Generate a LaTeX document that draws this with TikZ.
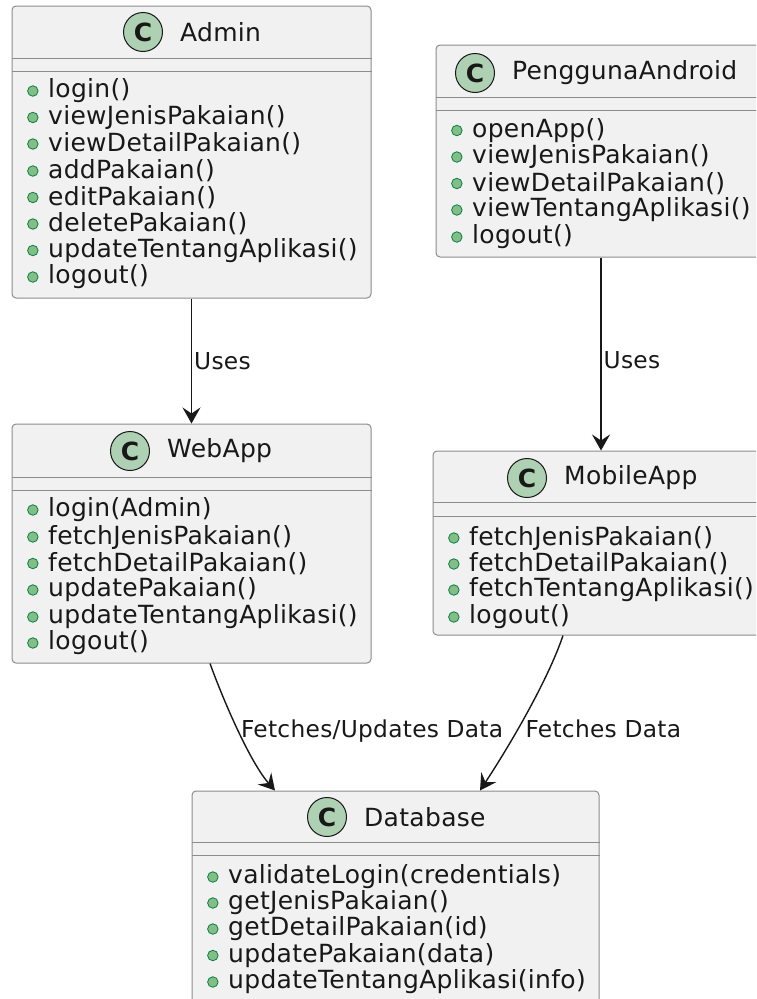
\documentclass[tikz,border=0pt]{standalone}
\usepackage{fontspec}
\setmainfont{DejaVu Sans}[LetterSpace=1.2]
\usetikzlibrary{arrows.meta}
\usetikzlibrary{positioning}
\definecolor{boxGray}{HTML}{F1F1F1}
\definecolor{iconGreen}{HTML}{ADD1B2}
\definecolor{dotGreen}{HTML}{84BE84}
\definecolor{dotLine}{HTML}{038048}
\definecolor{inkGray}{HTML}{181818}
\begin{document}
\begin{tikzpicture}[x = 1pt, y = -1pt, text = inkGray]
\tikzstyle{classStyle} = [shape = rectangle, rounded corners = 4pt, draw = black!45, line width = 1pt, fill = boxGray, inner sep = 0pt]
\tikzstyle{iconStyle} = [shape = circle, minimum size = 39pt, inner sep = 0pt, draw = inkGray, line width = 1pt, fill = iconGreen, font = \fontsize{25}{25}\selectfont\bfseries]
\tikzstyle{nameStyle} = [inner sep = 0pt, font = \fontsize{25}{30}\selectfont]
\tikzstyle{dotStyle} = [shape = circle, minimum size = 10.5pt, inner sep = 0pt, draw = dotLine, line width = 0.8pt, fill = dotGreen]
\tikzstyle{methodStyle} = [anchor = west, inner sep = 0pt, font = \fontsize{25}{30}\selectfont, label = {[dotStyle, label distance = 9.5pt]left:{}}]
\tikzstyle{sepStyle} = [draw = black!45, line width = 1pt]
\tikzstyle{EdgeStyle} = [draw = inkGray, line width = 1.4pt, -{Stealth[length = 16pt, width = 18pt, inset = 6pt]}]
\tikzstyle{edgeLabel} = [inner sep = 2pt, font = \fontsize{23.3}{28}\selectfont]
\useasboundingbox (0,0) rectangle (756,999);
\clip (0,0) rectangle (756,999);
% Admin
\node[classStyle, minimum width = 359pt, minimum height = 292pt] (admin) at (191.5,152) {};
\node[iconStyle] (adminIcon) at (143,32) {C};
\node[nameStyle, right = 17pt of adminIcon] (adminName) {Admin};
\draw[sepStyle] ([yshift = -52.5pt]admin.north west) -- ([yshift = -52.5pt]admin.north east);
\draw[sepStyle] ([yshift = -65.5pt]admin.north west) -- ([yshift = -65.5pt]admin.north east);
\node[methodStyle] (a0) at (48,91) {login()};
\node[methodStyle] (a1) at (48,117.5) {viewJenisPakaian()};
\node[methodStyle] (a2) at (48,144) {viewDetailPakaian()};
\node[methodStyle] (a3) at (48,171) {addPakaian()};
\node[methodStyle] (a4) at (48,197.5) {editPakaian()};
\node[methodStyle] (a5) at (48,224) {deletePakaian()};
\node[methodStyle] (a6) at (48,250.5) {updateTentangAplikasi()};
\node[methodStyle] (a7) at (48,277) {logout()};
% PenggunaAndroid
\node[classStyle, minimum width = 330pt, minimum height = 212pt] (user) at (601,151) {};
\node[iconStyle] (userIcon) at (475,73) {C};
\node[nameStyle, right = 17pt of userIcon] (userName) {PenggunaAndroid};
\draw[sepStyle] ([yshift = -53pt]user.north west) -- ([yshift = -53pt]user.north east);
\draw[sepStyle] ([yshift = -66pt]user.north west) -- ([yshift = -66pt]user.north east);
\node[methodStyle] (u0) at (472,130.5) {openApp()};
\node[methodStyle] (u1) at (472,157) {viewJenisPakaian()};
\node[methodStyle] (u2) at (472,183.5) {viewDetailPakaian()};
\node[methodStyle] (u3) at (472,210) {viewTentangAplikasi()};
\node[methodStyle] (u4) at (472,237) {logout()};
% WebApp
\node[classStyle, minimum width = 359pt, minimum height = 239pt] (web) at (191.5,543.5) {};
\node[iconStyle] (webIcon) at (130,451) {C};
\node[nameStyle, right = 17pt of webIcon] (webName) {WebApp};
\draw[sepStyle] ([yshift = -54pt]web.north west) -- ([yshift = -54pt]web.north east);
\draw[sepStyle] ([yshift = -66.5pt]web.north west) -- ([yshift = -66.5pt]web.north east);
\node[methodStyle] (w0) at (48,510) {login(Admin)};
\node[methodStyle] (w1) at (48,537) {fetchJenisPakaian()};
\node[methodStyle] (w2) at (48,563.5) {fetchDetailPakaian()};
\node[methodStyle] (w3) at (48,590) {updatePakaian()};
\node[methodStyle] (w4) at (48,617) {updateTentangAplikasi()};
\node[methodStyle] (w5) at (48,643) {logout()};
% MobileApp
\node[classStyle, minimum width = 336pt, minimum height = 184pt] (mobile) at (601,543) {};
\node[iconStyle] (mobileIcon) at (527,478) {C};
\node[nameStyle, right = 17pt of mobileIcon] (mobileName) {MobileApp};
\draw[sepStyle] ([yshift = -52pt]mobile.north west) -- ([yshift = -52pt]mobile.north east);
\draw[sepStyle] ([yshift = -66pt]mobile.north west) -- ([yshift = -66pt]mobile.north east);
\node[methodStyle] (m0) at (469,538) {fetchJenisPakaian()};
\node[methodStyle] (m1) at (469,564) {fetchDetailPakaian()};
\node[methodStyle] (m2) at (469,590) {fetchTentangAplikasi()};
\node[methodStyle] (m3) at (469,617) {logout()};
% Database
\node[classStyle, minimum width = 407pt, minimum height = 215pt] (db) at (395.5,898.5) {};
\node[iconStyle] (dbIcon) at (327,817) {C};
\node[nameStyle, right = 17pt of dbIcon] (dbName) {Database};
\draw[sepStyle] ([yshift = -52pt]db.north west) -- ([yshift = -52pt]db.north east);
\draw[sepStyle] ([yshift = -65pt]db.north west) -- ([yshift = -65pt]db.north east);
\node[methodStyle] (d0) at (228,877) {validateLogin(credentials)};
\node[methodStyle] (d1) at (228,903) {getJenisPakaian()};
\node[methodStyle] (d2) at (228,929) {getDetailPakaian(id)};
\node[methodStyle] (d3) at (228,955.5) {updatePakaian(data)};
\node[methodStyle] (d4) at (228,982) {updateTentangAplikasi(info)};
% relations
\draw[EdgeStyle] (admin.south) -- node[edgeLabel, right, pos = 0.5] {Uses} (web.north);
\draw[EdgeStyle] (user.south) -- node[edgeLabel, right, pos = 0.53] {Uses} (mobile.north);
\draw[EdgeStyle] ([xshift = 18.5pt]web.south) .. controls (224,702) and (250,762) .. node[edgeLabel, right, pos = 0.5] {Fetches/Updates Data} ([xshift = -120.5pt]db.north);
\draw[EdgeStyle] ([xshift = -38pt]mobile.south) .. controls (548,680) and (510,745) .. node[edgeLabel, right, pos = 0.6, xshift = 5pt] {Fetches Data} ([xshift = 84.5pt]db.north);
\end{tikzpicture}
\end{document}
